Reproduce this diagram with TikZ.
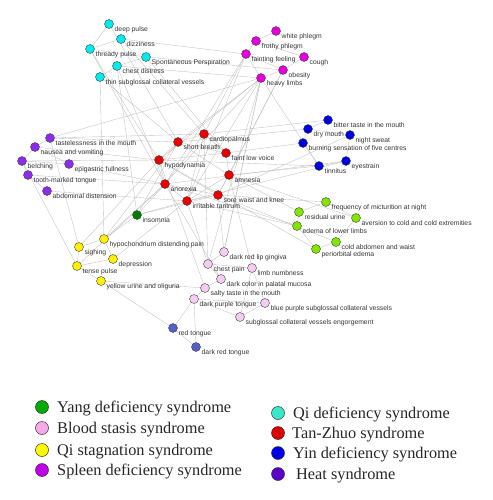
\documentclass[tikz,border=0pt]{standalone}
\usepackage{fontspec}
\setmainfont{Liberation Serif}
\newfontfamily\lblfont{Liberation Sans}
\pgfdeclarelayer{background}
\pgfsetlayers{background,main}
\definecolor{cCy}{RGB}{0,235,235}
\definecolor{cMa}{RGB}{230,0,220}
\definecolor{cBl}{RGB}{0,0,225}
\definecolor{cPu}{RGB}{140,45,235}
\definecolor{cRe}{RGB}{235,0,0}
\definecolor{cDg}{RGB}{0,125,0}
\definecolor{cLg}{RGB}{130,230,0}
\definecolor{cYe}{RGB}{255,240,0}
\definecolor{cPi}{RGB}{245,205,240}
\definecolor{cSl}{RGB}{85,95,200}
\definecolor{lYang}{RGB}{0,170,0}
\definecolor{lBlood}{RGB}{245,170,230}
\definecolor{lQiS}{RGB}{255,250,0}
\definecolor{lSpl}{RGB}{190,0,230}
\definecolor{lQiD}{RGB}{60,230,200}
\definecolor{lTan}{RGB}{220,0,0}
\definecolor{lYin}{RGB}{0,0,235}
\definecolor{lHeat}{RGB}{90,0,200}
\tikzset{
  dot/.style={circle,draw=black!75,line width=0.4pt,minimum size=9pt,inner sep=0pt},
  lbl/.style={anchor=west,inner sep=0pt,font=\lblfont\fontsize{6.8}{8}\selectfont,text=black!80},
  edge/.style={draw=black!25,line width=0.35pt},
  ldot/.style={circle,draw=black!80,line width=0.5pt,minimum size=13pt,inner sep=0pt},
  ltxt/.style={anchor=base west,inner sep=0pt,font=\fontsize{16.3}{19}\selectfont,text=black!85}
}
\newcommand\nd[5]{\node[dot,fill=#4] (#1) at (#2,#3) {};\node[lbl] (#1l) at (#2+5.5,#3+5.5) {#5};}
\begin{document}
\begin{tikzpicture}[x=1pt,y=-1pt]
\useasboundingbox (0,0) rectangle (492,500);
% cyan
\nd{dp}{109}{24}{cCy}{deep pulse}
\nd{dz}{121}{39}{cCy}{dizziness}
\nd{tp}{90}{49}{cCy}{thready pulse}
\nd{sp}{146}{57}{cCy}{Spontaneous Perspiration}
\nd{cd}{117}{66}{cCy}{chest distress}
\nd{ts}{100}{77}{cCy}{thin subglossal collateral vessels}
% magenta
\nd{wp}{276}{31}{cMa}{white phlegm}
\nd{fp}{256}{41}{cMa}{frothy phlegm}
\nd{ff}{246}{54}{cMa}{fainting feeling}
\nd{co}{304}{57}{cMa}{cough}
\nd{ob}{283}{70}{cMa}{obesity}
\nd{hl}{261}{78}{cMa}{heavy limbs}
% blue
\nd{bt}{328}{120}{cBl}{bitter taste in the mouth}
\nd{dm}{308}{129}{cBl}{dry mouth}
\nd{ns}{350}{135}{cBl}{night sweat}
\nd{bs}{303}{143}{cBl}{burning sensation of five centres}
\nd{es}{346}{161}{cBl}{eyestrain}
\nd{ti}{319}{166}{cBl}{tinnitus}
% purple
\nd{tl}{50}{138}{cPu}{tastelessness in the mouth}
\nd{nv}{35}{147}{cPu}{nausea and vomiting}
\nd{be}{22}{161}{cPu}{belching}
\nd{ef}{69}{164}{cPu}{epigastric fullness}
\nd{tm}{28}{175}{cPu}{tooth-marked tongue}
\nd{ad}{47}{191}{cPu}{abdominal distension}
% red
\nd{cp}{204}{134}{cRe}{cardiopalmus}
\nd{sb}{178}{142}{cRe}{short breath}
\nd{fl}{226}{153}{cRe}{faint low voice}
\nd{hy}{159}{160}{cRe}{hypodynamia}
\nd{am}{229}{175}{cRe}{amnesia}
\nd{an}{165}{184}{cRe}{anorexia}
\nd{sw}{218}{195}{cRe}{sore waist and knee}
\nd{it}{187}{201}{cRe}{irritable tantrum}
% dark green
\nd{ins}{137}{215}{cDg}{insomnia}
% light green
\nd{fm}{326}{202}{cLg}{frequency of micturition at night}
\nd{ru}{299}{212}{cLg}{residual urine}
\nd{ac}{356}{218}{cLg}{aversion to cold and cold extremities}
\nd{el}{297}{226}{cLg}{edema of lower limbs}
\nd{ca}{336}{242}{cLg}{cold abdomen and waist}
\nd{pe}{316}{249}{cLg}{periorbital edema}
% yellow
\nd{hc}{104}{239}{cYe}{hypochondrium distending pain}
\nd{si}{79}{247}{cYe}{sighing}
\nd{de}{113}{259}{cYe}{depression}
\nd{tpu}{77}{266}{cYe}{tense pulse}
\nd{yu}{101}{281}{cYe}{yellow urine and oliguria}
% pink
\nd{dl}{224}{252}{cPi}{dark red lip gingiva}
\nd{chp}{208}{264}{cPi}{chest pain}
\nd{ln}{252}{268}{cPi}{limb numbness}
\nd{dc}{221}{279}{cPi}{dark color in palatal mucosa}
\nd{st}{205}{288}{cPi}{salty taste in the mouth}
\nd{dpt}{194}{299}{cPi}{dark purple tongue}
\nd{bp}{265}{303}{cPi}{blue purple subglossal collateral vessels}
\nd{se}{240}{317}{cPi}{subglossal collateral vessels engorgement}
% slate
\nd{rt}{173}{328}{cSl}{red tongue}
\nd{drt}{196}{347}{cSl}{dark red tongue}
\begin{pgfonlayer}{background}
\foreach \a/\b in {dp/tp,dz/ff,dz/tp,tp/sp,sp/cd,sp/ob,cd/ts,cd/hl,ts/sb,tp/hy,dz/cp,cd/an,sp/fl,tl/hl,
  wp/fp,fp/ff,fp/co,ff/hl,ff/ob,ob/hl,co/ob,hl/sb,hl/hy,hl/an,hl/it,ff/cp,ob/am,ob/sw,hl/ti,ff/an,hl/dl,
  cp/sb,cp/fl,sb/fl,sb/hy,hy/an,an/it,it/sw,sw/am,am/fl,fl/hy,cp/an,sb/am,hy/sw,an/sw,it/am,cp/it,
  bt/dm,dm/ns,dm/bs,bs/ti,ti/es,es/ns,bt/cp,dm/sb,bs/fl,ti/am,es/an,ti/hy,es/it,ns/sw,
  tl/nv,nv/be,be/tm,tm/ad,ef/nv,ef/be,tl/sb,nv/hy,ef/an,ad/it,tm/an,be/hy,tl/cp,
  ins/an,ins/it,ins/hc,ins/sw,ins/sb,
  fm/ru,ru/el,el/pe,pe/ca,ca/ac,ac/fm,fm/sw,ru/am,el/it,el/an,ac/am,ca/sw,pe/hy,
  hc/si,si/tpu,tpu/de,de/hc,yu/tpu,hc/an,si/hy,tpu/an,de/it,yu/st,hc/sb,si/tl,tpu/be,
  dl/chp,chp/ln,chp/dc,dc/st,st/dpt,dpt/bp,bp/se,se/dpt,dl/sw,chp/it,ln/am,dc/an,st/hy,
  dpt/rt,dpt/drt,rt/drt,dl/hl,chp/cp,bp/ln,se/ln,rt/yu,ts/hc,cd/ins,dp/sb,tp/an,ff/it,hl/chp}
  \draw[edge] (\a) -- (\b);
\end{pgfonlayer}
% legend
\node[ldot,fill=lYang] (g1) at (42,407) {};
\node[ltxt] (t1) at (57,412) {Yang deficiency syndrome};
\node[ldot,fill=lBlood] (g2) at (42,428) {};
\node[ltxt] (t2) at (57,433) {Blood stasis syndrome};
\node[ldot,fill=lQiS] (g3) at (42,450) {};
\node[ltxt] (t3) at (57,455) {Qi stagnation syndrome};
\node[ldot,fill=lSpl] (g4) at (42,470) {};
\node[ltxt] (t4) at (57,475) {Spleen deficiency syndrome};
\node[ldot,fill=lQiD] (g5) at (278,413) {};
\node[ltxt] (t5) at (293,418) {Qi deficiency syndrome};
\node[ldot,fill=lTan] (g6) at (278,433) {};
\node[ltxt] (t6) at (292,438) {Tan-Zhuo syndrome};
\node[ldot,fill=lYin] (g7) at (278,453) {};
\node[ltxt] (t7) at (293,458) {Yin deficiency syndrome};
\node[ldot,fill=lHeat] (g8) at (278,474) {};
\node[ltxt] (t8) at (296,479) {Heat syndrome};
\end{tikzpicture}
\end{document}
